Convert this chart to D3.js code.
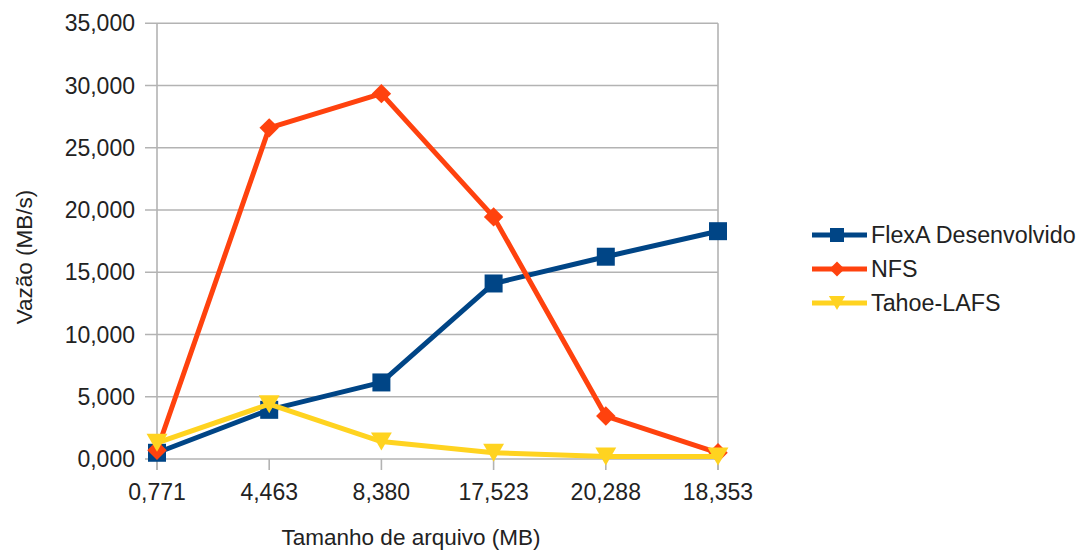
<!DOCTYPE html>
<html>
<head>
<meta charset="utf-8">
<script src="https://cdn.jsdelivr.net/npm/d3@7"></script>
<style>
  html, body { margin: 0; padding: 0; background: #fff; }
  svg text { font-family: "Liberation Sans", Arial, sans-serif; fill: #222; }
</style>
</head>
<body>
<svg id="chart" width="1090" height="551"></svg>
<script>
// File sizes (MB) used as categories along the x axis
const fileSizes = [0.771, 4.463, 8.380, 17.523, 20.288, 18.353];

// Throughput (MB/s) per system
const flexA  = [0.5, 3.95, 6.15, 14.1, 16.25, 18.3];
const nfs    = [0.7, 26.6, 29.35, 19.45, 3.45, 0.5];
const tahoe  = [1.3, 4.4, 1.4, 0.5, 0.2, 0.2];

const seriesNames = ["FlexA Desenvolvido", "NFS", "Tahoe-LAFS"];
const yTicks = [0, 5, 10, 15, 20, 25, 30, 35];

const xTitle = "Tamanho de arquivo (MB)";
const yTitle = "Vazão (MB/s)";

const colors = ["#004586", "#ff420e", "#ffd320"];
const symbols = ["square", "diamond", "triangleDown"];

const ptBR = d3.formatLocale({ decimal: ",", thousands: ".", grouping: [3], currency: ["R$ ", ""] });
const fmt = ptBR.format(".3f");

const svg = d3.select("#chart");
const plotLeft = 157, plotRight = 718, plotTop = 23.3, plotBottom = 459;

const x = d3.scalePoint().domain(fileSizes).range([plotLeft, plotRight]);
const y = d3.scaleLinear().domain([0, 35]).range([plotBottom, plotTop]);

const gridColor = "#b3b3b3";

// horizontal grid lines
svg.append("g").selectAll("line").data(yTicks).join("line")
  .attr("x1", plotLeft - 12).attr("x2", plotRight)
  .attr("y1", d => y(d)).attr("y2", d => y(d))
  .attr("stroke", gridColor).attr("stroke-width", 1.6);

// plot frame: left axis and right border
svg.append("line").attr("x1", plotLeft).attr("x2", plotLeft).attr("y1", plotTop).attr("y2", plotBottom + 11)
  .attr("stroke", gridColor).attr("stroke-width", 1.6);
svg.append("line").attr("x1", plotRight).attr("x2", plotRight).attr("y1", plotTop).attr("y2", plotBottom + 11)
  .attr("stroke", gridColor).attr("stroke-width", 1.6);

// x tick marks
svg.append("g").selectAll("line").data(fileSizes).join("line")
  .attr("x1", d => x(d)).attr("x2", d => x(d))
  .attr("y1", plotBottom).attr("y2", plotBottom + 11)
  .attr("stroke", gridColor).attr("stroke-width", 1.6);

// y tick labels
svg.append("g").selectAll("text").data(yTicks).join("text")
  .attr("x", 135).attr("y", d => y(d) + 8)
  .attr("text-anchor", "end").attr("font-size", 23)
  .text(d => fmt(d));

// x tick labels
svg.append("g").selectAll("text").data(fileSizes).join("text")
  .attr("x", d => x(d)).attr("y", 500)
  .attr("text-anchor", "middle").attr("font-size", 23)
  .text(d => fmt(d));

// axis titles
svg.append("text").attr("x", 411).attr("y", 545)
  .attr("text-anchor", "middle").attr("font-size", 22.5).text(xTitle);
svg.append("text").attr("transform", "translate(32,257) rotate(-90)")
  .attr("text-anchor", "middle").attr("font-size", 22.5).text(yTitle);

// marker outlines centred on the data point
function symbolPath(sym, size) {
  const h = size / 2;
  if (sym === "triangleDown") {
    const w = size * 0.58;
    return `M${-w},${-h}L${w},${-h}L0,${h}Z`;
  }
  if (sym === "diamond") {
    const r = h * 1.08;
    return `M0,${-r}L${r},0L0,${r}L${-r},0Z`;
  }
  return `M${-h},${-h}H${h}V${h}H${-h}Z`;
}

const data = [flexA, nfs, tahoe];
const line = d3.line().x((d, i) => x(fileSizes[i])).y(d => y(d));

data.forEach((vals, s) => {
  const g = svg.append("g");
  g.append("path").datum(vals).attr("d", line)
    .attr("fill", "none").attr("stroke", colors[s]).attr("stroke-width", 5)
    .attr("stroke-linejoin", "round");
  g.selectAll("path.m").data(vals).join("path").attr("class", "m")
    .attr("transform", (d, i) => `translate(${x(fileSizes[i])},${y(d)})`)
    .attr("d", symbolPath(symbols[s], 18))
    .attr("fill", colors[s]);
});

// legend
const legendY = [235, 269, 303];
seriesNames.forEach((name, s) => {
  const g = svg.append("g").attr("transform", `translate(0,${legendY[s]})`);
  g.append("line").attr("x1", 812).attr("x2", 867).attr("y1", 0).attr("y2", 0)
    .attr("stroke", colors[s]).attr("stroke-width", 5);
  g.append("path").attr("transform", "translate(837,0)")
    .attr("d", symbolPath(symbols[s], 14)).attr("fill", colors[s]);
  g.append("text").attr("x", 871).attr("y", 8).attr("font-size", 23.3).text(name);
});
</script>
</body>
</html>
